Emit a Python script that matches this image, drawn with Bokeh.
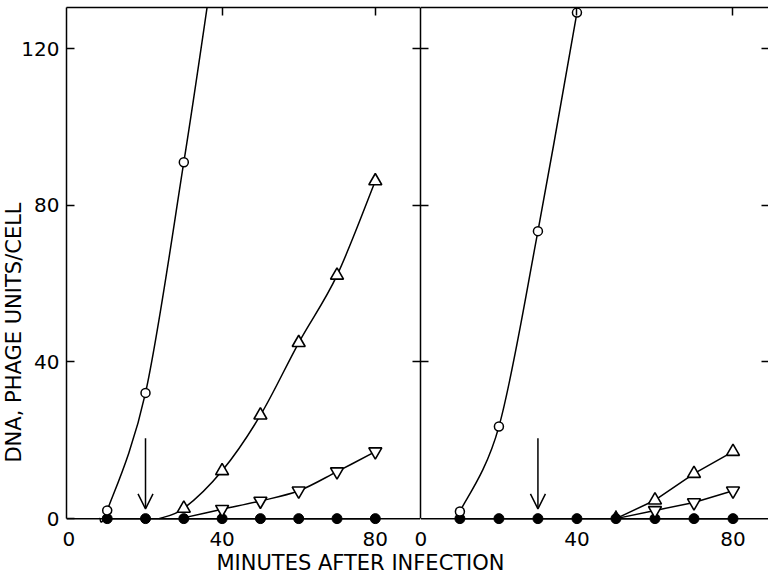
from bokeh.plotting import figure
from bokeh.layouts import row, column
from bokeh.models import (Range1d, LinearAxis, FixedTicker, Label, Arrow,
                          OpenHead, ColumnDataSource, Span)
from bokeh.embed import file_html
from bokeh.resources import INLINE

FONT = "DejaVu Sans"

# ---------------- data ----------------
X_TICKS = [0, 40, 80]
Y_TICKS = [0, 40, 80, 120]
Y_TICKS_INNER = [40, 80, 120]
TOP_TICKS = [40, 80]

# Left panel
L_filled_x = [10, 20, 30, 40, 50, 60, 70, 80]
L_filled_y = [0, 0, 0, 0, 0, 0, 0, 0]
L_open_x = [10, 20, 30]
L_open_y = [2.1, 32.1, 91.0]
L_open_line_x = [8, 10, 20, 30, 36.6]       # curve leaves axis at ~8, exits top at ~36
L_open_line_y = [0, 2.1, 32.1, 91.0, 134.0]
L_up_x = [30, 40, 50, 60, 70, 80]
L_up_y = [2.6, 12.2, 26.4, 44.9, 62.1, 86.2]
L_up_line_x = [23.5, 30, 40, 50, 60, 70, 80]
L_up_line_y = [0, 2.6, 12.2, 26.4, 44.9, 62.1, 86.2]
L_down_x = [40, 50, 60, 70, 80]
L_down_y = [2.4, 4.5, 7.1, 12.0, 17.1]
L_down_line_x = [29, 40, 50, 60, 70, 80]
L_down_line_y = [0, 2.4, 4.5, 7.1, 12.0, 17.1]
L_arrow_x = [20]
L_arrow_from = [20.5]
L_arrow_to = [2.5]

# Right panel
R_filled_x = [10, 20, 30, 40, 50, 60, 70, 80]
R_filled_y = [0, 0, 0, 0, 0, 0, 0, 0]
R_open_x = [10, 20, 30, 40]
R_open_y = [1.8, 23.5, 73.4, 129.2]
R_up_x = [60, 70, 80]
R_up_y = [4.7, 11.5, 17.1]
R_up_line_x = [50, 60, 70, 80]
R_up_line_y = [0, 4.7, 11.5, 17.1]
R_up_small_x = [50]
R_up_small_y = [0.9]
R_down_x = [60, 70, 80]
R_down_y = [2.1, 4.1, 7.1]
R_down_line_x = [50, 60, 70, 80]
R_down_line_y = [0, 2.1, 4.1, 7.1]
R_arrow_x = [30]
R_arrow_from = [20.5]
R_arrow_to = [2.5]

Y_MIN, Y_MAX = -1.5, 130.5
ROW_H = 570
TOP_B, FRAME_H = 7, 517


def smooth(xs, ys):
    """Catmull-Rom curve through the points, as cubic Bezier segments."""
    P = list(zip(xs, ys))
    n = len(P)
    out = dict(x0=[], y0=[], x1=[], y1=[], cx0=[], cy0=[], cx1=[], cy1=[])
    for i in range(n - 1):
        p0 = P[i - 1] if i > 0 else P[i]
        p1 = P[i]
        p2 = P[i + 1]
        p3 = P[i + 2] if i + 2 < n else P[i + 1]
        out["x0"].append(p1[0]); out["y0"].append(p1[1])
        out["x1"].append(p2[0]); out["y1"].append(p2[1])
        out["cx0"].append(p1[0] + (p2[0] - p0[0]) / 6.0)
        out["cy0"].append(p1[1] + (p2[1] - p0[1]) / 6.0)
        out["cx1"].append(p2[0] - (p3[0] - p1[0]) / 6.0)
        out["cy1"].append(p2[1] - (p3[1] - p1[1]) / 6.0)
    return out


def label_axis(ax, ticks, standoff, tick_in=0, line=False, bounds=None):
    ax.ticker = FixedTicker(ticks=ticks)
    ax.major_tick_in = tick_in
    ax.major_tick_out = 0
    ax.major_tick_line_color = "black" if tick_in else None
    ax.major_tick_line_width = 1.5
    ax.minor_tick_line_color = None
    ax.axis_line_color = "black" if line else None
    ax.axis_line_width = 1.5
    if bounds is not None:
        ax.bounds = bounds
    ax.axis_label = None
    ax.major_label_text_font = FONT
    ax.major_label_text_font_size = "20px"
    ax.major_label_text_color = "black"
    ax.major_label_standoff = standoff


def tick_axis(ticks, tin, tout, line=True, bounds=None):
    ax = LinearAxis(ticker=FixedTicker(ticks=[], minor_ticks=ticks))
    ax.minor_tick_in = tin
    ax.minor_tick_out = tout
    ax.minor_tick_line_color = "black"
    ax.minor_tick_line_width = 1.5
    ax.major_tick_line_color = None
    ax.major_label_standoff = 0
    ax.axis_line_color = "black" if line else None
    ax.axis_line_width = 1.5
    if bounds is not None:
        ax.bounds = bounds
    return ax


def add_series(p, filled_x, filled_y, open_curve, open_x, open_y,
               up_line, up_x, up_y, down_line, down_x, down_y,
               ax_, a_from, a_to):
    for c in (open_curve, up_line, down_line):
        if c[0] == "smooth":
            p.bezier(source=ColumnDataSource(smooth(c[1], c[2])),
                     x0="x0", y0="y0", x1="x1", y1="y1",
                     cx0="cx0", cy0="cy0", cx1="cx1", cy1="cy1",
                     line_color="black", line_width=1.5)
        else:
            p.line(c[1], c[2], line_color="black", line_width=1.5)
    p.line(filled_x, filled_y, line_color="black", line_width=1.5)
    p.scatter(filled_x, filled_y, marker="circle", size=10,
              fill_color="black", line_color="black")
    p.scatter(open_x, open_y, marker="circle", size=9, fill_color="white",
              line_color="black", line_width=1.5)
    p.scatter(up_x, up_y, marker="triangle", size=13, fill_color="white",
              line_color="black", line_width=1.6)
    p.scatter(down_x, down_y, marker="inverted_triangle", size=13,
              fill_color="white", line_color="black", line_width=1.6)
    src = ColumnDataSource(dict(x=ax_, y0=a_from, y1=a_to))
    p.add_layout(Arrow(end=OpenHead(size=15, line_width=1.5, line_color="black"),
                       x_start="x", y_start="y0", x_end="x", y_end="y1",
                       source=src, line_width=1.5, line_color="black"))


def base_fig(xr, fw, left, margin):
    p = figure(title=None, x_range=xr, y_range=Range1d(Y_MIN, Y_MAX),
               frame_width=fw, frame_height=FRAME_H,
               min_border_left=left, min_border_right=0, min_border_top=TOP_B,
               min_border_bottom=ROW_H - TOP_B - FRAME_H,
               toolbar_location=None, output_backend="svg", margin=margin)
    p.grid.visible = False
    p.outline_line_color = None
    p.border_fill_alpha = 0
    p.add_layout(Span(location=0, dimension="width", line_color="black",
                      line_width=1.5))
    return p


# ---------------- left panel ----------------
pl = base_fig(Range1d(-0.63, 91.8), 354, 66, (0, 0, 0, -30))
label_axis(pl.xaxis[0], X_TICKS, 7)
label_axis(pl.yaxis[0], Y_TICKS, 7, tick_in=8, line=True, bounds=(0, Y_MAX))
pl.add_layout(tick_axis(TOP_TICKS, 8, 0), "above")

add_series(pl, L_filled_x, L_filled_y,
           ("smooth", L_open_line_x, L_open_line_y), L_open_x, L_open_y,
           ("smooth", L_up_line_x, L_up_line_y), L_up_x, L_up_y,
           ("smooth", L_down_line_x, L_down_line_y), L_down_x, L_down_y,
           L_arrow_x, L_arrow_from, L_arrow_to)

# ---------------- right panel ----------------
pr = base_fig(Range1d(-0.1, 89.1), 348, 10, (0, 0, 0, -10))
label_axis(pr.xaxis[0], X_TICKS, 7)
pr.yaxis[0].visible = False
pr.add_layout(tick_axis(Y_TICKS_INNER, 8, 8, bounds=(0, Y_MAX)), "left")
pr.add_layout(tick_axis(TOP_TICKS, 8, 0), "above")
pr.add_layout(tick_axis(Y_TICKS_INNER, 7, 0, line=False), "right")

add_series(pr, R_filled_x, R_filled_y,
           ("smooth", R_open_x, R_open_y), R_open_x, R_open_y,
           ("line", R_up_line_x, R_up_line_y), R_up_x, R_up_y,
           ("line", R_down_line_x, R_down_line_y), R_down_x, R_down_y,
           R_arrow_x, R_arrow_from, R_arrow_to)
pr.scatter(R_up_small_x, R_up_small_y, marker="triangle", size=8,
           fill_color="black", line_color="black")


def text_fig(w, h, margin):
    p = figure(title=None, x_range=Range1d(0, w), y_range=Range1d(0, h),
               frame_width=w, frame_height=h, min_border=0,
               x_axis_location=None, y_axis_location=None,
               toolbar_location=None, output_backend="svg", margin=margin)
    p.grid.visible = False
    p.outline_line_color = None
    p.background_fill_alpha = 0
    p.border_fill_alpha = 0
    return p


# y-axis title (sits under the left panel's transparent border)
py = text_fig(30, ROW_H, (0, 0, 0, 0))
py.add_layout(Label(x=13, y=ROW_H - 325, text="DNA, PHAGE UNITS/CELL",
                    angle=90, angle_units="deg", text_align="center",
                    text_baseline="middle", text_font=FONT,
                    text_font_size="21px", text_color="black"))

# shared x-axis title, overlaid (transparent) on the bottom strip of the panels
TITLE_H = 40
px = text_fig(768, TITLE_H, (-TITLE_H, 0, 0, 0))
px.add_layout(Label(x=360, y=7.5, text="MINUTES AFTER INFECTION",
                    text_align="center", text_baseline="alphabetic",
                    text_font=FONT, text_font_size="21px", text_color="black"))

layout = column(row(py, pl, pr), px)

with open("out.html", "w") as f:
    f.write(file_html(layout, INLINE))
